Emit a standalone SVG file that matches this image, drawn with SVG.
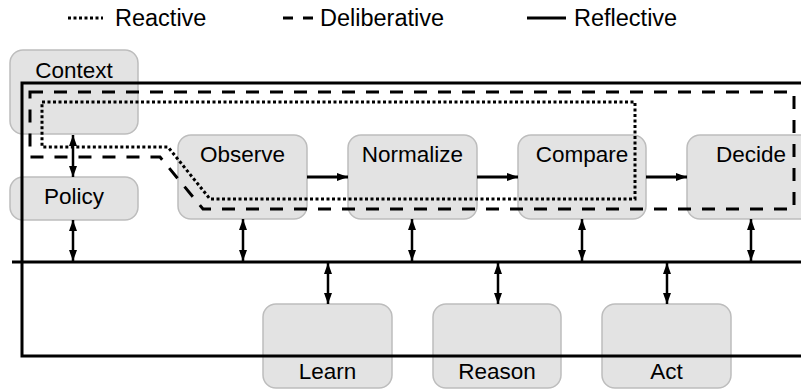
<svg xmlns="http://www.w3.org/2000/svg" width="801" height="392" viewBox="0 0 801 392">
  <defs>
    <style>
      .box { fill: #e3e3e3; stroke: #bdbdbd; stroke-width: 1.5; }
      .lbl { font-family: "Liberation Sans", Arial, sans-serif; font-size: 22.5px; fill: #000; text-anchor: middle; }
      .leg { font-family: "Liberation Sans", Arial, sans-serif; font-size: 23.5px; fill: #000; }
      .solid { fill: none; stroke: #000; stroke-width: 3; }
      .dash { fill: none; stroke: #000; stroke-width: 3; stroke-dasharray: 13 11; }
      .dot { fill: none; stroke: #000; stroke-width: 3; stroke-dasharray: 3 2.5; }
      .arr { fill: none; stroke: #000; stroke-width: 2.5; }
      .flow { fill: none; stroke: #000; stroke-width: 3; }
    </style>
    <marker id="head" viewBox="0 0 11 8" refX="11" refY="4" markerWidth="11" markerHeight="8" markerUnits="userSpaceOnUse" orient="auto-start-reverse">
      <path d="M0,0 L11,4 L0,8 Z" fill="#000"/>
    </marker>
  </defs>

  <rect width="801" height="392" fill="#fff"/>

  <!-- legend -->
  <g id="legend">
    <line x1="68" y1="18" x2="103" y2="18" class="dot"/>
    <text x="115" y="26" class="leg">Reactive</text>
    <line x1="283" y1="18" x2="313" y2="18" class="dash" style="stroke-dasharray:10 10"/>
    <text x="320" y="26" class="leg">Deliberative</text>
    <line x1="527" y1="18" x2="566" y2="18" class="solid"/>
    <text x="574" y="26" class="leg">Reflective</text>
  </g>

  <!-- nodes -->
  <g id="context"><rect class="box" x="10" y="50" width="128" height="84" rx="13"/><text class="lbl" x="74" y="78">Context</text></g>
  <g id="policy"><rect class="box" x="10" y="177" width="128" height="43" rx="13"/><text class="lbl" x="74" y="204">Policy</text></g>
  <g id="observe"><rect class="box" x="178" y="135" width="129" height="84" rx="13"/><text class="lbl" x="242.5" y="162">Observe</text></g>
  <g id="normalize"><rect class="box" x="348" y="135" width="129" height="84" rx="13"/><text class="lbl" x="412.5" y="162">Normalize</text></g>
  <g id="compare"><rect class="box" x="518" y="135" width="128" height="84" rx="13"/><text class="lbl" x="582" y="162">Compare</text></g>
  <g id="decide"><rect class="box" x="687" y="135" width="128" height="84" rx="13"/><text class="lbl" x="751" y="162">Decide</text></g>
  <g id="learn"><rect class="box" x="263" y="304" width="129" height="84" rx="13"/><text class="lbl" x="327.5" y="379">Learn</text></g>
  <g id="reason"><rect class="box" x="433" y="304" width="128" height="84" rx="13"/><text class="lbl" x="497" y="379">Reason</text></g>
  <g id="act"><rect class="box" x="602" y="304" width="129" height="84" rx="13"/><text class="lbl" x="666.5" y="379">Act</text></g>

  <!-- connectors -->
  <g id="connectors">
    <!-- loops -->
    <path class="solid" d="M801,83 H22 V356 H801"/>
    <path class="solid" d="M12,262 H801"/>
    <path class="dash" d="M30,92 H794 V209 H203 L160,157 H30 Z"/>
    <path class="dot" d="M42,102 H635 V199 H210 L168,147 H42 Z"/>

    <!-- flow arrows -->
    <line class="flow" x1="307" y1="177" x2="348" y2="177" marker-end="url(#head)"/>
    <line class="flow" x1="477" y1="177" x2="518" y2="177" marker-end="url(#head)"/>
    <line class="flow" x1="646" y1="177" x2="687" y2="177" marker-end="url(#head)"/>

    <!-- two-way links -->
    <line class="arr" x1="73" y1="135" x2="73" y2="177" marker-start="url(#head)" marker-end="url(#head)"/>
    <line class="arr" x1="73" y1="220" x2="73" y2="261" marker-start="url(#head)" marker-end="url(#head)"/>
    <line class="arr" x1="243" y1="219" x2="243" y2="261" marker-start="url(#head)" marker-end="url(#head)"/>
    <line class="arr" x1="412" y1="219" x2="412" y2="261" marker-start="url(#head)" marker-end="url(#head)"/>
    <line class="arr" x1="582" y1="219" x2="582" y2="261" marker-start="url(#head)" marker-end="url(#head)"/>
    <line class="arr" x1="751" y1="219" x2="751" y2="261" marker-start="url(#head)" marker-end="url(#head)"/>
    <line class="arr" x1="328" y1="263" x2="328" y2="304" marker-start="url(#head)" marker-end="url(#head)"/>
    <line class="arr" x1="498" y1="263" x2="498" y2="304" marker-start="url(#head)" marker-end="url(#head)"/>
    <line class="arr" x1="667" y1="263" x2="667" y2="304" marker-start="url(#head)" marker-end="url(#head)"/>
  </g>
</svg>
